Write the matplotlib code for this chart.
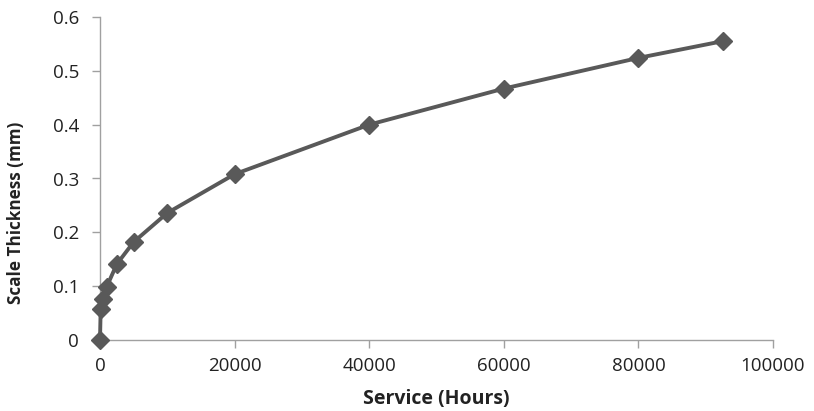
import matplotlib
matplotlib.use("Agg")
import matplotlib.pyplot as plt

hours = [0, 100, 500, 1000, 2500, 5000, 10000, 20000, 40000, 60000, 80000, 92500]
thickness = [0.0, 0.058, 0.076, 0.099, 0.141, 0.182, 0.236, 0.308, 0.400, 0.467, 0.524, 0.555]
xticks = [0, 20000, 40000, 60000, 80000, 100000]
yticks = [0, 0.1, 0.2, 0.3, 0.4, 0.5, 0.6]
ytick_labels = ["0", "0.1", "0.2", "0.3", "0.4", "0.5", "0.6"]

plt.rcParams['font.family'] = ['Open Sans', 'DejaVu Sans']

fig = plt.figure(figsize=(8.14, 4.11), dpi=100)
ax = fig.add_axes([100/814, 1 - 340/411, 673/814, 323/411])

col = '#595959'
ax.plot(hours, thickness, color=col, lw=2.8, marker='D', markersize=9.5,
        markerfacecolor=col, markeredgecolor=col, clip_on=False, zorder=3)

ax.set_xlim(0, 100000)
ax.set_ylim(0, 0.6)
ax.set_xticks(xticks)
ax.set_xticklabels([str(t) for t in xticks])
ax.set_yticks(yticks)
ax.set_yticklabels(ytick_labels)

for s in ['top', 'right']:
    ax.spines[s].set_visible(False)
for s in ['left', 'bottom']:
    ax.spines[s].set_color('#a0a0a0')
    ax.spines[s].set_linewidth(1.0)

ax.tick_params(axis='both', colors='#a0a0a0', labelcolor='#222222', labelsize=13.5, length=6, width=1)
ax.tick_params(axis='x', pad=6)
ax.tick_params(axis='y', pad=9)

ax.set_xlabel('Service (Hours)', fontsize=14, fontweight='bold', color='#222222', labelpad=10)
ax.set_ylabel('Scale Thickness (mm)', fontsize=12.3, fontweight='bold', color='#222222')
ax.yaxis.set_label_coords(-75/673, 0.393)

fig.savefig('out.png', dpi=100)
